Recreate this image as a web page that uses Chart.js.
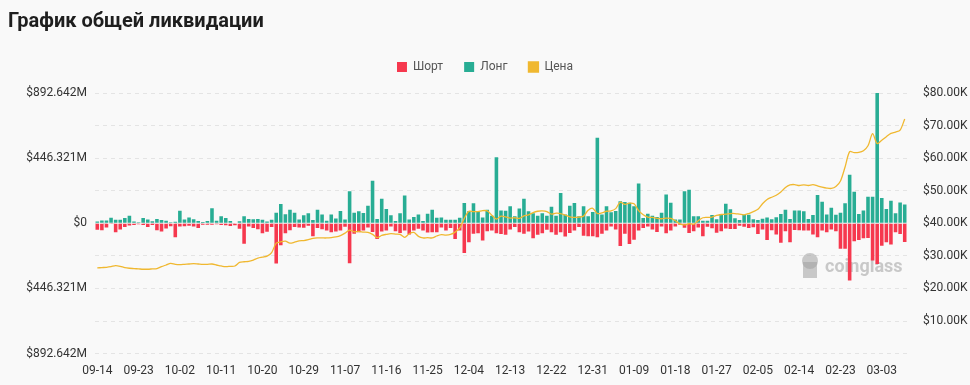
<!DOCTYPE html>
<html>
<head>
<meta charset="utf-8">
<script src="https://cdn.jsdelivr.net/npm/chart.js@4"></script>
<style>
  html, body { margin: 0; padding: 0; background: #f9f9f9; }
  #wrap { position: relative; width: 970px; height: 385px; }
  #title { position: absolute; left: 8px; top: 8px; font: bold 20px Roboto, "Noto Sans", sans-serif; color: #1e1e1e; }
  canvas { position: absolute; left: 0; top: 0; }
</style>
</head>
<body>
<div id="wrap">
  <canvas id="canvas" width="970" height="385"></canvas>
  <div id="title">График общей ликвидации</div>
</div>
<script>
// values in $M, one per day starting 2023-09-14
const longs = [
  12, 20, 20, 38, 25, 25, 36, 52, 12, 7, 36, 26, 14, 30, 22, 18, 8, 10, 86, 26,
  40, 28, 16, 9, 15, 103, 18, 48, 36, 15, 4, 14, 48, 30, 28, 30, 24, 12, 25, 73,
  133, 62, 92, 73, 26, 56, 68, 22, 93, 61, 17, 61, 33, 84, 26, 220, 72, 82, 70, 121,
  291, 29, 169, 98, 56, 15, 68, 190, 26, 43, 61, 15, 66, 93, 38, 40, 24, 24, 24, 38,
  139, 82, 137, 77, 40, 93, 52, 453, 88, 86, 116, 49, 102, 169, 82, 68, 52, 68, 52, 114,
  52, 208, 61, 121, 139, 49, 116, 49, 77, 586, 61, 116, 75, 84, 151, 146, 141, 116, 273, 36,
  66, 52, 43, 72, 197, 141, 26, 26, 220, 229, 49, 49, 17, 18, 57, 27, 64, 134, 96, 34,
  23, 59, 59, 27, 23, 32, 39, 27, 41, 64, 93, 30, 87, 87, 82, 30, 57, 194, 148, 61,
  107, 59, 73, 137, 332, 216, 64, 87, 182, 182, 892.642, 173, 98, 155, 68, 143, 128
];
const shorts = [
  45, 48, 28, 5, 61, 42, 25, 15, 12, 6, 12, 26, 12, 48, 56, 35, 20, 95, 22, 20,
  16, 22, 32, 10, 10, 10, 7, 12, 14, 18, 14, 38, 140, 22, 32, 40, 68, 58, 25, 276,
  150, 69, 48, 25, 29, 31, 17, 89, 33, 40, 49, 61, 56, 49, 24, 273, 72, 61, 49, 29,
  59, 107, 56, 49, 22, 54, 66, 49, 77, 49, 38, 49, 63, 61, 61, 29, 49, 33, 107, 49,
  204, 130, 72, 68, 118, 54, 49, 68, 73, 79, 43, 26, 61, 72, 56, 102, 79, 68, 45, 61,
  79, 61, 91, 66, 49, 26, 86, 89, 89, 95, 72, 49, 22, 43, 155, 72, 141, 112, 49, 33,
  22, 43, 59, 22, 68, 49, 22, 10, 31, 66, 54, 29, 89, 23, 34, 64, 55, 36, 39, 39,
  16, 23, 32, 27, 73, 43, 114, 48, 77, 134, 55, 130, 46, 48, 50, 50, 77, 96, 50, 61,
  43, 55, 175, 175, 392, 123, 114, 102, 100, 255, 278, 153, 130, 146, 61, 73, 128
];
// BTC price, $K
const prices = [
  26.3, 26.4, 26.5, 26.7, 27.0, 26.8, 26.4, 26.2, 26.1, 26.0, 25.9, 25.9, 26.0, 26.1, 26.7, 27.2, 27.7, 27.4, 27.3, 27.4,
  27.5, 27.6, 27.5, 27.4, 27.4, 27.5, 27.2, 26.9, 26.7, 26.8, 26.9, 28.0, 28.2, 28.3, 28.7, 29.3, 29.6, 29.9, 31.0, 33.9,
  34.3, 34.5, 33.9, 34.2, 34.6, 34.7, 35.0, 35.4, 35.5, 35.5, 35.5, 35.6, 35.8, 36.2, 37.0, 37.9, 37.4, 37.5, 37.3, 37.2,
  36.6, 35.6, 36.3, 36.6, 36.8, 36.7, 36.6, 35.7, 36.8, 37.2, 36.0, 35.5, 35.6, 35.5, 36.1, 36.5, 36.4, 36.6, 37.3, 38.5,
  41.5, 43.7, 43.6, 43.6, 43.9, 43.8, 42.5, 41.3, 42.2, 42.0, 41.6, 41.7, 41.5, 42.3, 42.6, 43.3, 43.7, 43.8, 43.6, 42.8,
  43.1, 43.0, 42.5, 42.0, 41.8, 41.9, 42.2, 44.0, 44.6, 43.0, 43.2, 43.7, 43.8, 44.5, 46.5, 45.8, 46.2, 46.0, 43.9, 42.6,
  41.9, 41.8, 41.5, 41.4, 41.6, 41.5, 40.8, 39.8, 39.5, 39.9, 39.7, 40.8, 41.7, 41.8, 41.9, 42.4, 42.7, 42.8, 43.0, 43.0,
  42.8, 42.6, 43.0, 43.6, 44.3, 46.0, 47.3, 48.0, 48.6, 49.6, 51.0, 51.8, 51.9, 51.6, 51.8, 51.6, 51.9, 51.5, 51.1, 50.8,
  50.7, 51.3, 53.0, 57.3, 62.0, 61.7, 61.8, 62.3, 63.8, 67.5, 64.5, 65.5, 66.6, 67.6, 68.0, 68.6, 72.0
];

const LEFT_MAX = 892.642e6;
const LEFT_STEP = LEFT_MAX / 4;

// category dates MM-DD
const categories = [];
let day = new Date(Date.UTC(2023, 8, 14));
while (categories.length < longs.length) {
  const mm = String(day.getUTCMonth() + 1).padStart(2, "0");
  const dd = String(day.getUTCDate()).padStart(2, "0");
  categories.push(mm + "-" + dd);
  day.setUTCDate(day.getUTCDate() + 1);
}

let colors = {
  red: "#f6384e",
  green: "#28ad94",
  yellow: "#f0b830",
};

Chart.defaults.font.family = "Roboto, 'Noto Sans', sans-serif";
Chart.defaults.font.size = 12;
Chart.defaults.color = "#444";

// extra room under the legend
const legendGap = {
  id: "legendGap",
  beforeInit(chart) {
    const fit = chart.legend.fit;
    chart.legend.fit = function () {
      fit.bind(chart.legend)();
      this.height += 10;
    };
  },
};

const watermark = {
  id: "watermark",
  beforeDatasetsDraw(chart) {
    const c = chart.ctx;
    c.save();
    c.fillStyle = "rgba(160,160,160,0.55)";
    c.beginPath();
    c.arc(810, 261, 8, 0, Math.PI * 2);
    c.fill();
    c.fillRect(803, 262, 14, 16);
    c.font = "bold 18px Roboto, sans-serif";
    c.textBaseline = "middle";
    c.fillText("coinglass", 825, 267);
    c.restore();
  },
};

let ctx = document.getElementById("canvas").getContext("2d");
new Chart(ctx, {
  type: "bar",
  data: {
    labels: categories,
    datasets: [
      {
        label: "Шорт",
        data: shorts.map((v) => -v * 1e6),
        backgroundColor: colors.red,
        borderWidth: 0,
        yAxisID: "y",
        stack: "liq",
        order: 1,
      },
      {
        label: "Лонг",
        data: longs.map((v) => v * 1e6),
        backgroundColor: colors.green,
        borderWidth: 0,
        yAxisID: "y",
        stack: "liq",
        order: 1,
      },
      {
        type: "line",
        label: "Цена",
        data: prices.map((v) => v * 1000),
        borderColor: colors.yellow,
        backgroundColor: colors.yellow,
        borderWidth: 1.3,
        pointRadius: 0,
        tension: 0.3,
        yAxisID: "y1",
        order: 0,
      },
    ],
  },
  options: {
    responsive: false,
    animation: false,
    barPercentage: 0.78,
    categoryPercentage: 1,
    layout: { padding: { top: 40, bottom: 5, left: 0, right: 0 } },
    plugins: {
      legend: {
        position: "top",
        labels: {
          boxWidth: 10,
          boxHeight: 10,
          padding: 21,
          color: "#555",
          sort: (a, b) => a.datasetIndex - b.datasetIndex,
        },
      },
      tooltip: { enabled: false },
    },
    scales: {
      x: {
        stacked: true,
        grid: { display: false },
        border: { display: false },
        ticks: {
          autoSkip: false,
          maxRotation: 0,
          padding: 2,
          color: "#333",
          callback: (v, i) => (i % 9 === 0 ? categories[i] : null),
        },
      },
      y: {
        stacked: true,
        position: "left",
        min: -LEFT_MAX,
        max: LEFT_MAX,
        afterFit: (s) => { s.width = 95; },
        grid: { color: "#e4e4e4", drawTicks: false },
        border: { display: false, dash: [4, 4] },
        ticks: {
          stepSize: LEFT_STEP,
          padding: 8,
          color: "#333",
          callback: (v) => {
            const a = Math.abs(v);
            if (a < 1) return "$0";
            if (Math.round(a / LEFT_STEP) % 2) return "";
            return "$" + (a / 1e6).toFixed(3) + "M";
          },
        },
      },
      y1: {
        position: "right",
        min: 0,
        max: 80000,
        afterFit: (s) => { s.width = 63; },
        grid: { display: false },
        border: { display: false },
        ticks: {
          stepSize: 10000,
          padding: 8,
          color: "#333",
          callback: (v) => (v === 0 ? "" : "$" + (v / 1000).toFixed(2) + "K"),
        },
      },
    },
  },
  plugins: [legendGap, watermark],
});
</script>
</body>
</html>
